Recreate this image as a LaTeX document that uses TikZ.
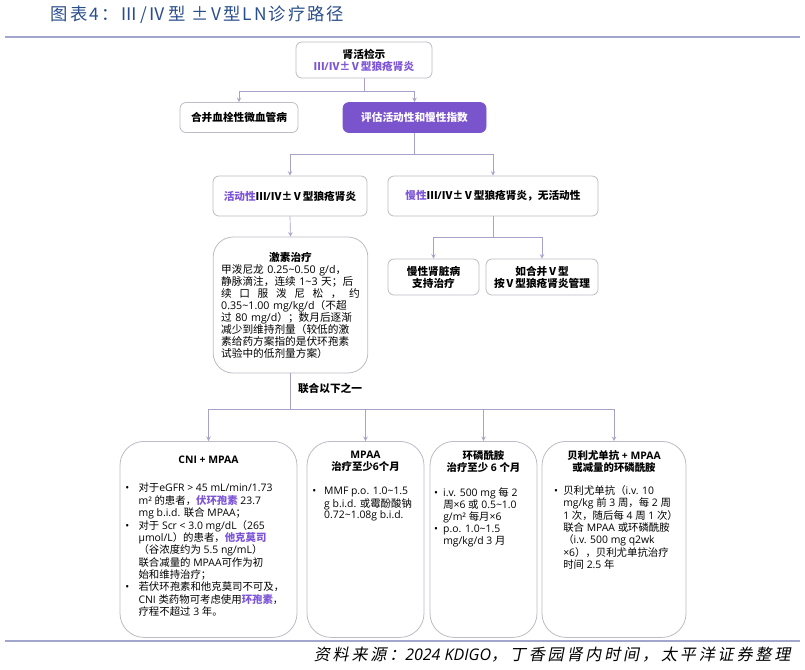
\documentclass[tikz,border=0pt]{standalone}
\usepackage{fontspec}
\setmainfont{Open Sans}
\newfontfamily\cjk{Noto Sans CJK SC}
\newfontfamily\cjkit[FakeSlant=0.2,LetterSpace=18]{Noto Sans CJK SC}
\newfontfamily\cjktitle[LetterSpace=12]{Noto Sans CJK SC}
\usetikzlibrary{positioning}

% Chinese characters go to the CJK font, the rest stays in the Latin font
\XeTeXinterchartokenstate=1
\newXeTeXintercharclass\hanclass
\newcount\hanchar
\newcommand\sethan[2]{\hanchar=#1\relax
  \loop\XeTeXcharclass\hanchar=\hanclass
  \ifnum\hanchar<#2\relax\advance\hanchar by 1\repeat}
\sethan{"00B1}{"00B1}
\sethan{"2160}{"217F}
\sethan{"3000}{"303F}
\sethan{"4E00}{"9FFF}
\sethan{"FF00}{"FFEF}
\newcommand\hanfont{\cjk}
\XeTeXinterchartoks 0 \hanclass = {\begingroup\hanfont}
\XeTeXinterchartoks 4095 \hanclass = {\begingroup\hanfont}
\XeTeXinterchartoks \hanclass 0 = {\endgroup}
\XeTeXinterchartoks \hanclass 4095 = {\endgroup}

\definecolor{ttlblue}{RGB}{42,78,140}
\definecolor{rulec}{RGB}{162,166,204}
\definecolor{boxgray}{RGB}{188,188,198}
\definecolor{linkgray}{RGB}{168,162,200}
\definecolor{ppl}{RGB}{125,85,215}
\definecolor{keyfill}{RGB}{122,84,205}
\newcommand\tld{\textasciitilde}
\newcommand\fs{\fontsize{8}{9}\selectfont}
\newcommand\fss{\fontsize{7.8}{8.9}\selectfont}

\begin{document}
\begin{tikzpicture}[x=0.75pt,y=-0.75pt,>=stealth,
  every node/.style={font=\fs},
  box/.style={draw=boxgray,line width=0.6pt,rounded corners=4.5pt,fill=white,align=center,inner sep=2pt},
  keybox/.style={box,draw=keyfill,fill=keyfill,text=white},
  bigbox/.style={draw=boxgray,line width=0.6pt,rounded corners=18pt,fill=white,inner sep=0pt,anchor=north,font=\fss},
  link/.style={->,draw=linkgray,line width=0.5pt}]
\useasboundingbox (0,0) rectangle (805,669);

% title and rules
\node[anchor=west,text=ttlblue,font=\fontsize{13}{15}\selectfont\cjktitle\def\hanfont{\cjktitle}] (ttl) at (46,15) {图表4：Ⅲ/Ⅳ型 ±V型LN诊疗路径};
\draw[rulec,line width=1.6pt] (5,37) -- (800,37);
\draw[rulec,line width=1.1pt] (5,641) -- (800,641);

% upper part
\node[box,minimum width=102pt,minimum height=27pt] (biopsy) at (364,60) {\textbf{肾活检示}\\\textbf{\textcolor{ppl}{Ⅲ/Ⅳ±Ⅴ型狼疮肾炎}}};
\node[box,minimum width=88.5pt,minimum height=22.5pt] (tma) at (239,117.5) {\textbf{合并血栓性微血管病}};
\node[keybox,minimum width=107.25pt,minimum height=22.5pt] (assess) at (414.5,117.5) {\textbf{评估活动性和慢性指数}};
\coordinate (j1) at (biopsy.south |- 0,91);
\draw[link] (biopsy.south) -- (j1) -| (tma.north);
\draw[link] (j1) -| (assess.north);

\node[box,minimum width=115.5pt,minimum height=30pt] (active) at (290,196) {\textbf{\textcolor{ppl}{活动性}Ⅲ/Ⅳ±Ⅴ型狼疮肾炎}};
\node[box,minimum width=157.5pt,minimum height=30pt] (chronic) at (493,196) {\textbf{\textcolor{ppl}{慢性}Ⅲ/Ⅳ±Ⅴ型狼疮肾炎，无活动性}};
\coordinate (j2) at (assess.south |- 0,154);
\draw[link] (assess.south) -- (j2) -| (active.north);
\draw[link] (j2) -| (chronic.north);

\node[box,rounded corners=15pt,minimum height=102pt,text width=104pt,inner xsep=6pt,align=left] (steroid) at (290.5,305) {\hfill\textbf{激素治疗}\hfill\null\\
甲泼尼龙 0.25\tld 0.50 g/d，\\
静脉滴注，连续 1\tld 3 天；后\\
续\hfill 口\hfill 服\hfill 泼\hfill 尼\hfill 松\hfill ，\hfill 约\\
0.35\tld 1.00 mg/kg/d（不超\\
过 80 mg/d）；数月后逐渐\\
减少到维持剂量（较低的激\\
素给药方案指的是伏环孢素\\
试验中的低剂量方案）};
\draw[link] (active.south) -- (steroid.north);

\node[box,minimum width=68.25pt,minimum height=27pt] (ckd) at (433.5,277) {\textbf{慢性肾脏病}\\\textbf{支持治疗}};
\node[box,minimum width=84pt,minimum height=27pt] (typev) at (542,277) {\textbf{如合并Ⅴ型}\\\textbf{按Ⅴ型狼疮肾炎管理}};
\coordinate (j3) at (chronic.south |- 0,237);
\draw[link] (chronic.south) -- (j3) -| (ckd.north);
\draw[link] (j3) -| (typev.north);

% lower part
\node[font=\fs\bfseries] (either) at (330,388) {联合以下之一};
\coordinate (j4) at (steroid.south |- 0,409);

\node[bigbox] (cni) at (208.5,441) {\parbox[t][147pt][t]{132.75pt}{\vspace*{11pt}\centering\textbf{CNI + MPAA}\par\vspace{13.5pt}\raggedright
\begin{tabular}{@{\hspace{4pt}}l@{\hspace{7pt}}l@{}}
•&对于eGFR > 45 mL/min/1.73\\
&m² 的患者，\textcolor{ppl}{\textbf{伏环孢素}} 23.7\\
&mg b.i.d. 联合 MPAA；\\
•&对于 Scr < 3.0 mg/dL（265\\
&μmol/L）的患者，\textcolor{ppl}{\textbf{他克莫司}}\\
&（谷浓度约为 5.5 ng/mL）\\
&联合减量的 MPAA可作为初\\
&始和维持治疗；\\
•&若伏环孢素和他克莫司不可及，\\
&CNI 类药物可考虑使用\textcolor{ppl}{\textbf{环孢素}}，\\
&疗程不超过 3 年。
\end{tabular}}};

\node[bigbox] (mpaa) at (365.5,441) {\parbox[t][147pt][t]{87.75pt}{\vspace*{7pt}\centering\textbf{MPAA}\\\textbf{治疗至少6个月}\par\vspace{10.5pt}\raggedright
\begin{tabular}{@{\hspace{4pt}}l@{\hspace{6pt}}l@{}}
•&MMF p.o. 1.0\tld 1.5\\
&g b.i.d. 或霉酚酸钠\\
&0.72\tld 1.08g b.i.d.
\end{tabular}}};

\node[bigbox] (cyc) at (483.5,441) {\parbox[t][147pt][t]{80.25pt}{\vspace*{7pt}\centering\textbf{环磷酰胺}\\\textbf{治疗至少 6 个月}\par\vspace{10pt}\raggedright
\begin{tabular}{@{\hspace{3pt}}l@{\hspace{4pt}}l@{}}
•&i.v. 500 mg 每 2\\
&周×6 或 0.5\tld 1.0\\
&g/m² 每月×6\\
•&p.o. 1.0\tld 1.5\\
&mg/kg/d 3 月
\end{tabular}}};

\node[bigbox] (bel) at (614,441) {\parbox[t][147pt][t]{108pt}{\vspace*{7pt}\centering\textbf{贝利尤单抗 + MPAA}\\\textbf{或减量的环磷酰胺}\par\vspace{8.5pt}\raggedright
\begin{tabular}{@{\hspace{9pt}}l@{\hspace{4pt}}l@{}}
•&贝利尤单抗（i.v. 10\\
&mg/kg 前 3 周，每 2 周\\
&1 次，随后每 4 周 1 次）\\
&联合 MPAA 或环磷酰胺\\
&（i.v. 500 mg q2wk\\
&×6），贝利尤单抗治疗\\
&时间 2.5 年
\end{tabular}}};

\draw[link] (steroid.south) -- (j4) -| (cni.north);
\draw[link] (j4) -| (mpaa.north);
\draw[link] (j4) -| (cyc.north);
\draw[link] (j4) -| (bel.north);

% source line
\node[anchor=east,font=\fontsize{12}{14}\selectfont\itshape\def\hanfont{\cjkit}] (src) at (795,655) {资料来源：2024 KDIGO，丁香园肾内时间，太平洋证券整理};
\end{tikzpicture}
\end{document}
